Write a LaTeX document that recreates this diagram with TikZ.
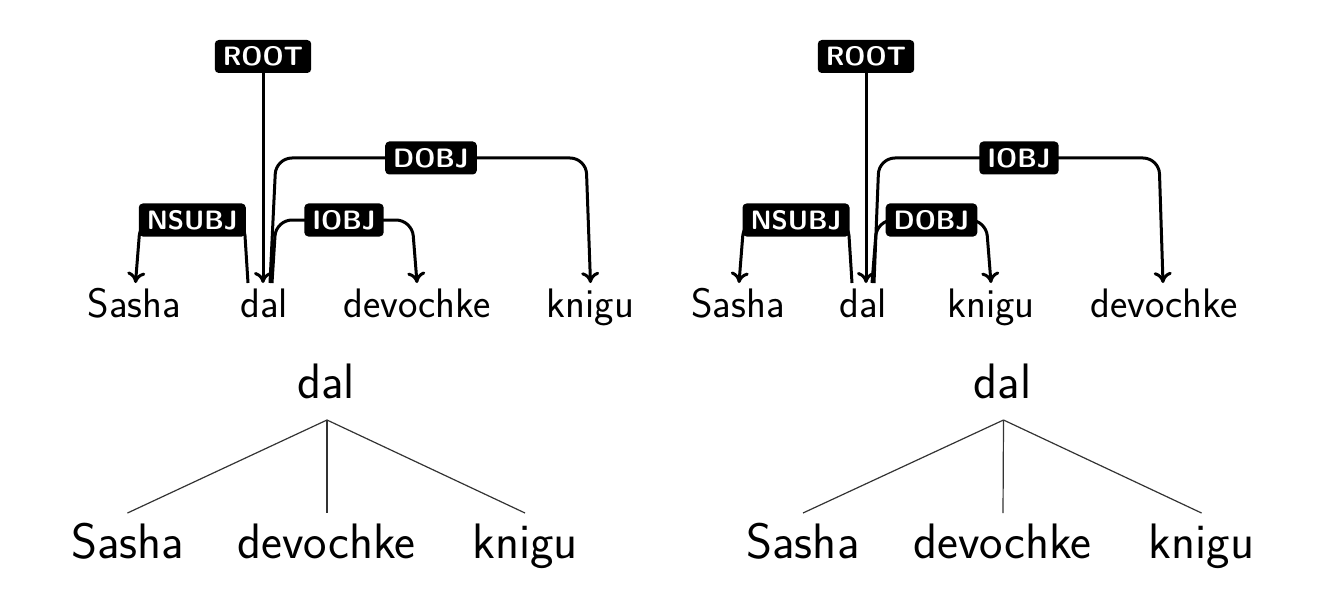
\documentclass[tikz,border=0pt]{standalone}
\usepackage{fontspec}
\usetikzlibrary{calc,arrows.meta}
\tikzset{
  word/.style={inner sep=0pt, anchor=base, font=\sffamily\fontsize{20.6}{24}\selectfont},
  tword/.style={inner sep=0pt, anchor=base, font=\sffamily\fontsize{24.9}{29}\selectfont},
  lab/.style={fill=black, text=white, rounded corners=2pt, inner xsep=4pt, inner ysep=0pt,
    minimum height=16.5pt, text height=9.2pt, text depth=0pt,
    font=\sffamily\bfseries\fontsize{13.3}{15}\selectfont},
  dep/.style={line width=1.5pt, rounded corners=8pt, -{To[length=5.5pt,width=9pt]}},
  tline/.style={line width=0.6pt, black!80},
}
\begin{document}
\begin{tikzpicture}[x=0.5pt, y=-0.5pt]
\useasboundingbox (0,0) rectangle (1320,604);
% ---------- left dependency graph ----------
\node[word] (sashaL) at (134.5,317) {Sasha};
\node[word] (dalL)   at (264,317) {dal};
\node[word] (devL)   at (417,317) {devochke};
\node[word] (kniL)   at (590.5,317) {knigu};
\node[lab] (rootL) at (263,56.5) {ROOT};
\draw[dep] (rootL.south) -- ($(dalL.base)+(-1,-34)$);
\draw[dep] ($(dalL.base)+(-16,-34)$) -- ++(-4,-63)
  -- node[lab] {NSUBJ} ($(sashaL.base)+(6,-97)$) -- ($(sashaL.base)+(1,-34)$);
\draw[dep] ($(dalL.base)+(8,-34)$) -- ++(4,-63)
  -- node[lab] {IOBJ} ($(devL.base)+(-5,-97)$) -- ($(devL.base)+(0,-34)$);
\draw[dep] ($(dalL.base)+(6,-34)$) -- ++(6,-125)
  -- node[lab] {DOBJ} ($(kniL.base)+(-4.5,-159)$) -- ($(kniL.base)+(0,-34)$);
% ---------- right dependency graph ----------
\node[word] (sashaR) at (738,317) {Sasha};
\node[word] (dalR)   at (863,317) {dal};
\node[word] (kniR)   at (991,317) {knigu};
\node[word] (devR)   at (1164,317) {devochke};
\node[lab] (rootR) at (866,56.5) {ROOT};
\draw[dep] (rootR.south) -- ($(dalR.base)+(3,-34)$);
\draw[dep] ($(dalR.base)+(-11,-34)$) -- ++(-4,-63)
  -- node[lab] {NSUBJ} ($(sashaR.base)+(6,-97)$) -- ($(sashaR.base)+(1,-34)$);
\draw[dep] ($(dalR.base)+(9,-34)$) -- ++(5,-63)
  -- node[lab] {DOBJ} ($(kniR.base)+(-5,-97)$) -- ($(kniR.base)+(0,-34)$);
\draw[dep] ($(dalR.base)+(11,-34)$) -- ++(5,-125)
  -- node[lab] {IOBJ} ($(devR.base)+(-5,-159)$) -- ($(devR.base)+(-1,-34)$);
% ---------- left tree ----------
\node[tword] (tdalL)   at (326,398) {dal};
\node[tword] (tsashaL) at (127.5,558) {Sasha};
\node[tword] (tdevL)   at (326.5,558) {devochke};
\node[tword] (tkniL)   at (525,558) {knigu};
\coordinate (tjL) at ($(tdalL.base)+(1,22)$);
\draw[tline] (tjL) -- ($(tsashaL.base)+(0,-45)$);
\draw[tline] (tjL) -- ($(tdevL.base)+(0.5,-45)$);
\draw[tline] (tjL) -- ($(tkniL.base)+(0,-45)$);
% ---------- right tree ----------
\node[tword] (tdalR)   at (1002.5,398) {dal};
\node[tword] (tsashaR) at (803,558) {Sasha};
\node[tword] (tdevR)   at (1002.5,558) {devochke};
\node[tword] (tkniR)   at (1201.5,558) {knigu};
\coordinate (tjR) at ($(tdalR.base)+(1,22)$);
\draw[tline] (tjR) -- ($(tsashaR.base)+(0,-45)$);
\draw[tline] (tjR) -- ($(tdevR.base)+(0.5,-45)$);
\draw[tline] (tjR) -- ($(tkniR.base)+(0,-45)$);
\end{tikzpicture}
\end{document}
